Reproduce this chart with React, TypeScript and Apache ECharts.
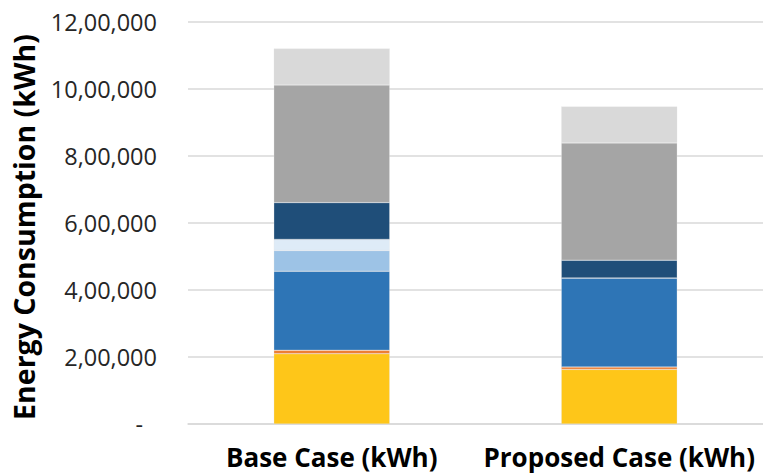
import React, { useEffect, useRef } from "react";
import * as echarts from "echarts";

const categories = ["Base Case (kWh)", "Proposed Case (kWh)"];
const yTicks = [0, 200000, 400000, 600000, 800000, 1000000, 1200000];
const yTitle = "Energy Consumption (kWh)";

const seriesNames = ["Series 1", "Series 2", "Series 3", "Series 4", "Series 5", "Series 6", "Series 7", "Series 8"];
const seriesColors = ["#FEC619", "#ED7D31", "#2E75B6", "#9DC3E6", "#DEEBF7", "#1F4E79", "#A5A5A5", "#D9D9D9"];
const s1 = [210000, 163000];
const s2 = [10000, 7000];
const s3 = [236000, 266000];
const s4 = [62000, 0];
const s5 = [33000, 0];
const s6 = [110000, 53000];
const s7 = [351000, 350000];
const s8 = [109000, 109000];
const seriesValues = [s1, s2, s3, s4, s5, s6, s7, s8];

function indian(v: number): string {
  if (v === 0) return "{d|-}";
  const s = String(Math.round(v));
  const last3 = s.slice(-3);
  let rest = s.slice(0, -3);
  const parts: string[] = [];
  while (rest.length > 2) {
    parts.unshift(rest.slice(-2));
    rest = rest.slice(0, -2);
  }
  if (rest.length) parts.unshift(rest);
  return parts.length ? parts.join(",") + "," + last3 : last3;
}

export default function App() {
  const ref = useRef<HTMLDivElement>(null);
  useEffect(() => {
    if (!ref.current) return;
    const chart = echarts.init(ref.current, undefined, { renderer: "svg" });
    const font = "'Open Sans', 'DejaVu Sans', sans-serif";
    chart.setOption({
      animation: false,
      grid: { left: 188, right: -7, top: 22, bottom: 51, containLabel: false },
      graphic: [
        {
          type: "text",
          x: 24,
          y: 227,
          rotation: Math.PI / 2,
          style: {
            text: yTitle,
            fill: "#000",
            font: `bold 28.5px ${font}`,
            align: "center",
            verticalAlign: "middle",
          },
        },
      ],
      xAxis: {
        type: "category",
        data: categories,
        axisLine: { show: true, lineStyle: { color: "#D9D9D9", width: 1.5 } },
        axisTick: { show: false },
        axisLabel: {
          interval: 0,
          color: "#000",
          fontFamily: font,
          fontWeight: "bold",
          fontSize: 26,
          lineHeight: 26,
          margin: 20,
        },
      },
      yAxis: {
        type: "value",
        min: 0,
        max: 1200000,
        interval: 200000,
        axisLine: { show: false },
        axisTick: { show: false },
        splitLine: { lineStyle: { color: "#D9D9D9", width: 1.5 } },
        axisLabel: {
          color: "#262626",
          fontFamily: font,
          fontSize: 23.5,
          margin: 31,
          formatter: (v: number) => (yTicks.includes(v) ? indian(v) : ""),
          rich: { d: { color: "#262626", fontFamily: font, fontSize: 23.5, padding: [0, 14, 0, 0] } },
        },
      },
      series: seriesNames.map((name, i) => ({
        name,
        type: "bar",
        stack: "total",
        barWidth: 116,
        data: seriesValues[i],
        itemStyle: { color: seriesColors[i], borderColor: "rgba(230,230,230,0.6)", borderWidth: 0.5 },
      })),
    });
    return () => chart.dispose();
  }, []);
  return (
    <div
      ref={ref}
      style={{ position: "fixed", left: 0, top: 0, width: 763, height: 475, background: "#fff" }}
    />
  );
}
